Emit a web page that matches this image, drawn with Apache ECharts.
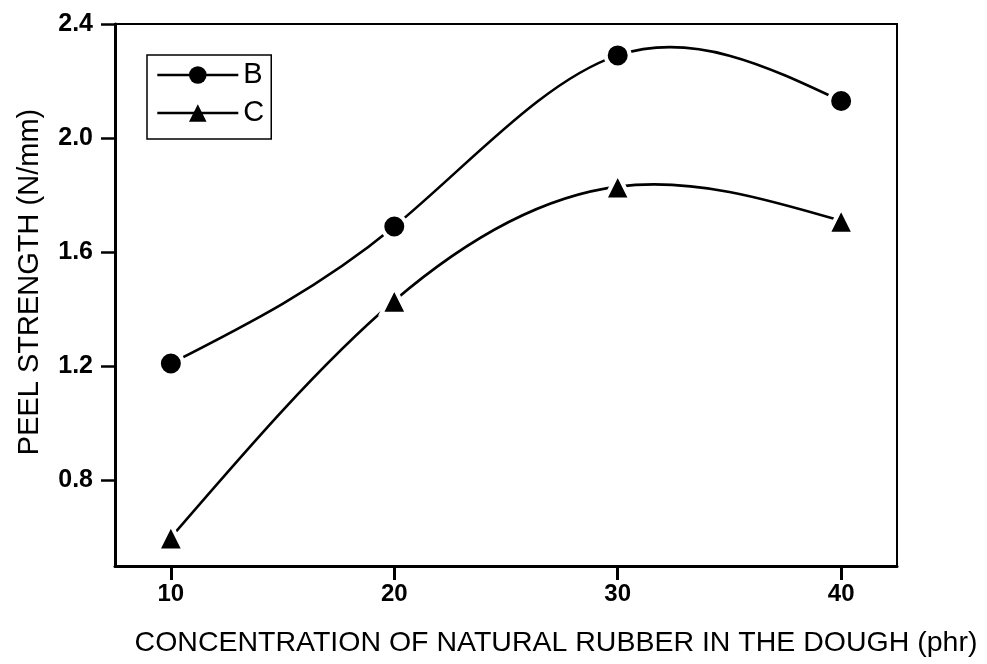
<!DOCTYPE html>
<html>
<head>
<meta charset="utf-8">
<script src="https://cdn.jsdelivr.net/npm/echarts@6/dist/echarts.min.js"></script>
<style>
  html, body { margin: 0; padding: 0; background: #fff; }
  #chart { width: 987px; height: 664px; }
</style>
</head>
<body>
<div id="chart"></div>
<script>
// Natural rubber concentration in the dough (phr)
const concentrations = [10, 20, 30, 40];
// Peel strength (N/mm) for each adhesive
const seriesB = [1.21, 1.69, 2.29, 2.13];
const seriesC = [0.60, 1.43, 1.83, 1.71];
const seriesNames = ['B', 'C'];
// Tick positions
const xTicks = [10, 20, 30, 40];
const yTicks = [0.8, 1.2, 1.6, 2.0, 2.4];

const labelFont = '"Liberation Sans", Arial, sans-serif';
const chart = echarts.init(document.getElementById('chart'), null, { renderer: 'canvas' });

const toPairs = (vals) => concentrations.map((c, i) => [c, vals[i]]);

// Slopes of a natural cubic spline through the points (used to build Bezier segments)
function splineSlopes(xs, ys) {
  const n = xs.length;
  const h = [], d = [];
  for (let i = 0; i < n - 1; i++) {
    h.push(xs[i + 1] - xs[i]);
    d.push((ys[i + 1] - ys[i]) / h[i]);
  }
  // Solve tridiagonal system for second derivatives, M[0] = M[n-1] = 0
  const M = new Array(n).fill(0);
  const a = [], b = [], c = [], r = [];
  for (let i = 1; i < n - 1; i++) {
    a.push(h[i - 1]); b.push(2 * (h[i - 1] + h[i])); c.push(h[i]);
    r.push(6 * (d[i] - d[i - 1]));
  }
  const m = b.length;
  for (let i = 1; i < m; i++) {
    const w = a[i] / b[i - 1];
    b[i] -= w * c[i - 1];
    r[i] -= w * r[i - 1];
  }
  const sol = new Array(m);
  for (let i = m - 1; i >= 0; i--) {
    sol[i] = (r[i] - (i < m - 1 ? c[i] * sol[i + 1] : 0)) / b[i];
  }
  for (let i = 0; i < m; i++) M[i + 1] = sol[i];
  const slopes = [];
  for (let i = 0; i < n - 1; i++) slopes.push(d[i] - h[i] * (2 * M[i] + M[i + 1]) / 6);
  const last = n - 2;
  slopes.push(d[last] + h[last] * (M[last] + 2 * M[last + 1]) / 6);
  return slopes;
}

// Smooth curve drawn as Bezier segments through the data, positioned by the axes
function curveSeries(name, vals) {
  const slopes = splineSlopes(concentrations, vals);
  return {
    name: name + ' curve',
    type: 'custom',
    data: toPairs(vals),
    silent: true,
    z: 2,
    renderItem: function (params, api) {
      const i = params.dataIndex;
      if (i >= concentrations.length - 1) return null;
      const x0 = concentrations[i], x1 = concentrations[i + 1];
      const y0 = vals[i], y1 = vals[i + 1];
      const h = x1 - x0;
      const p0 = api.coord([x0, y0]);
      const p1 = api.coord([x1, y1]);
      const c1 = api.coord([x0 + h / 3, y0 + slopes[i] * h / 3]);
      const c2 = api.coord([x1 - h / 3, y1 - slopes[i + 1] * h / 3]);
      return {
        type: 'bezierCurve',
        shape: { x1: p0[0], y1: p0[1], x2: p1[0], y2: p1[1],
                 cpx1: c1[0], cpy1: c1[1], cpx2: c2[0], cpy2: c2[1] },
        style: { stroke: '#000', fill: null, lineWidth: 2.6 }
      };
    }
  };
}

// Data markers (white rim leaves a small gap where the curve meets them)
function markerSeries(name, vals, symbol, size) {
  return {
    name: name,
    type: 'line',
    data: toPairs(vals),
    symbol: symbol,
    symbolSize: size,
    showAllSymbol: true,
    lineStyle: { color: '#000', width: 2.6, opacity: 0 },
    itemStyle: { color: '#000', borderColor: '#fff', borderWidth: 4 },
    emphasis: { disabled: true },
    z: 3
  };
}

chart.setOption({
  animation: false,
  backgroundColor: '#fff',
  grid: {
    left: 115, right: 90, top: 24, bottom: 98,
    show: true, borderColor: '#000', borderWidth: 2
  },
  legend: {
    left: 147, top: 55,
    orient: 'vertical',
    data: seriesNames,
    itemWidth: 81, itemHeight: 22, itemGap: 8,
    padding: [5, 7, 11, 9],
    borderColor: '#000', borderWidth: 1.5,
    lineStyle: { color: '#000', width: 2.6, opacity: 1 },
    itemStyle: { borderWidth: 0 },
    textStyle: { fontFamily: labelFont, fontSize: 29, lineHeight: 30, color: '#000' }
  },
  xAxis: {
    type: 'value', min: 7.5, max: 42.5,
    name: 'CONCENTRATION OF NATURAL RUBBER IN THE DOUGH (phr)',
    nameLocation: 'middle', nameGap: 63,
    nameTextStyle: { fontFamily: labelFont, fontSize: 28.5, color: '#000', padding: [0, 0, 0, 100] },
    axisLine: { show: true, lineStyle: { color: '#000', width: 3 } },
    axisTick: { show: true, inside: false, length: 14, customValues: xTicks, lineStyle: { color: '#000', width: 3 } },
    axisLabel: { customValues: xTicks, margin: 16, fontFamily: labelFont, fontSize: 24, fontWeight: 'bold', color: '#000' },
    splitLine: { show: false }
  },
  yAxis: {
    type: 'value', min: 0.5, max: 2.4,
    name: 'PEEL STRENGTH (N/mm)',
    nameLocation: 'middle', nameGap: 71,
    nameTextStyle: { fontFamily: labelFont, fontSize: 29, color: '#000', padding: [0, 0, 0, 26] },
    axisLine: { show: true, lineStyle: { color: '#000', width: 3 } },
    axisTick: { show: true, inside: false, length: 14, customValues: yTicks, lineStyle: { color: '#000', width: 2.5 } },
    axisLabel: {
      customValues: yTicks, margin: 22, fontFamily: labelFont, fontSize: 25, fontWeight: 'bold', color: '#000',
      formatter: (v) => v.toFixed(1)
    },
    splitLine: { show: false }
  },
  series: [
    curveSeries(seriesNames[0], seriesB),
    curveSeries(seriesNames[1], seriesC),
    markerSeries(seriesNames[0], seriesB, 'circle', 24),
    markerSeries(seriesNames[1], seriesC, 'triangle', 26)
  ]
});
</script>
</body>
</html>
